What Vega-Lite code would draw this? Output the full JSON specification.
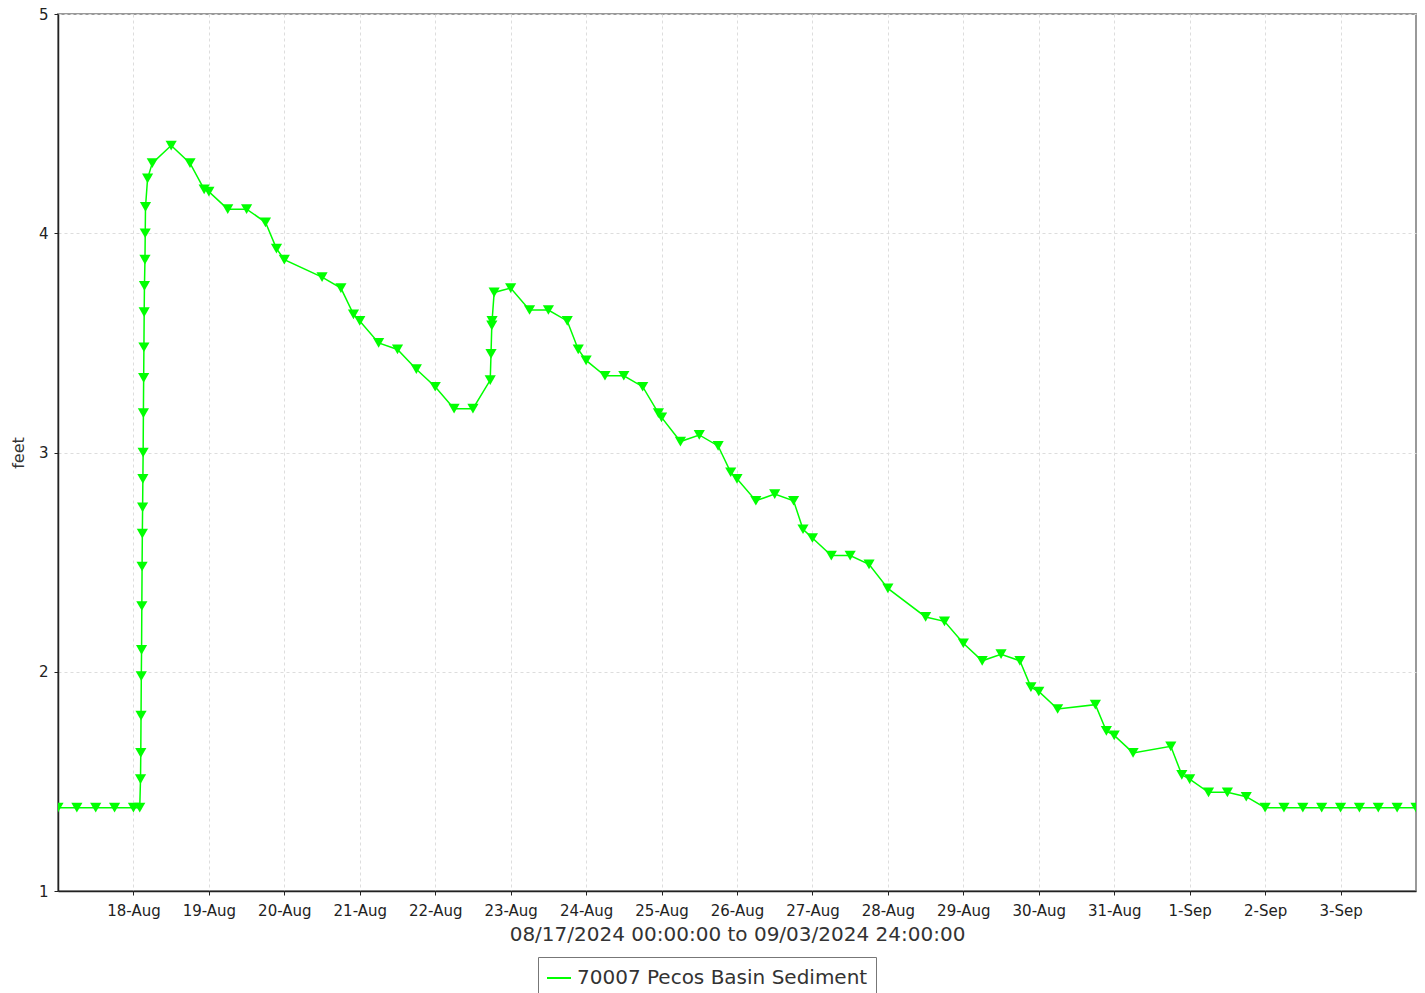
{
  "$schema": "https://vega.github.io/schema/vega-lite/v6.json",
  "autosize": {"type": "none"},
  "width": 1358,
  "height": 877,
  "padding": {"left": 58, "top": 14, "right": 9, "bottom": 102},
  "background": "white",
  "config": {
    "font": "DejaVu Sans",
    "view": {"stroke": "#999", "strokeWidth": 2},
    "axis": {
      "domainColor": "#222",
      "domainWidth": 1.5,
      "tickColor": "#222",
      "tickSize": 4,
      "labelFontSize": 15,
      "labelColor": "#222",
      "titleColor": "#333",
      "titleFontWeight": "normal",
      "gridColor": "#ddd",
      "gridDash": [3, 3],
      "gridWidth": 1
    }
  },
  "data": {
    "values": [
      {"t": "2024-08-17T00:00", "v": 1.38},
      {"t": "2024-08-17T06:00", "v": 1.38},
      {"t": "2024-08-17T12:00", "v": 1.38},
      {"t": "2024-08-17T18:00", "v": 1.38},
      {"t": "2024-08-18T00:00", "v": 1.38},
      {"t": "2024-08-18T02:00", "v": 1.38},
      {"t": "2024-08-18T02:15", "v": 1.51},
      {"t": "2024-08-18T02:20", "v": 1.63},
      {"t": "2024-08-18T02:25", "v": 1.80},
      {"t": "2024-08-18T02:30", "v": 1.98},
      {"t": "2024-08-18T02:35", "v": 2.10},
      {"t": "2024-08-18T02:40", "v": 2.30},
      {"t": "2024-08-18T02:45", "v": 2.48},
      {"t": "2024-08-18T02:50", "v": 2.63},
      {"t": "2024-08-18T02:55", "v": 2.75},
      {"t": "2024-08-18T03:00", "v": 2.88},
      {"t": "2024-08-18T03:05", "v": 3.00},
      {"t": "2024-08-18T03:10", "v": 3.18},
      {"t": "2024-08-18T03:15", "v": 3.34},
      {"t": "2024-08-18T03:20", "v": 3.48},
      {"t": "2024-08-18T03:25", "v": 3.64},
      {"t": "2024-08-18T03:30", "v": 3.76},
      {"t": "2024-08-18T03:40", "v": 3.88},
      {"t": "2024-08-18T03:45", "v": 4.00},
      {"t": "2024-08-18T03:50", "v": 4.12},
      {"t": "2024-08-18T04:30", "v": 4.25},
      {"t": "2024-08-18T06:00", "v": 4.32},
      {"t": "2024-08-18T12:00", "v": 4.40},
      {"t": "2024-08-18T18:00", "v": 4.32},
      {"t": "2024-08-18T22:30", "v": 4.20},
      {"t": "2024-08-19T00:00", "v": 4.19},
      {"t": "2024-08-19T06:00", "v": 4.11},
      {"t": "2024-08-19T12:00", "v": 4.11},
      {"t": "2024-08-19T18:00", "v": 4.05},
      {"t": "2024-08-19T21:30", "v": 3.93},
      {"t": "2024-08-20T00:00", "v": 3.88},
      {"t": "2024-08-20T12:00", "v": 3.80},
      {"t": "2024-08-20T18:00", "v": 3.75},
      {"t": "2024-08-20T22:00", "v": 3.63},
      {"t": "2024-08-21T00:00", "v": 3.60},
      {"t": "2024-08-21T06:00", "v": 3.50},
      {"t": "2024-08-21T12:00", "v": 3.47},
      {"t": "2024-08-21T18:00", "v": 3.38},
      {"t": "2024-08-22T00:00", "v": 3.30},
      {"t": "2024-08-22T06:00", "v": 3.20},
      {"t": "2024-08-22T12:00", "v": 3.20},
      {"t": "2024-08-22T17:30", "v": 3.33},
      {"t": "2024-08-22T17:45", "v": 3.45},
      {"t": "2024-08-22T18:00", "v": 3.58},
      {"t": "2024-08-22T18:05", "v": 3.60},
      {"t": "2024-08-22T18:45", "v": 3.73},
      {"t": "2024-08-23T00:00", "v": 3.75},
      {"t": "2024-08-23T06:00", "v": 3.65},
      {"t": "2024-08-23T12:00", "v": 3.65},
      {"t": "2024-08-23T18:00", "v": 3.60},
      {"t": "2024-08-23T21:30", "v": 3.47},
      {"t": "2024-08-24T00:00", "v": 3.42},
      {"t": "2024-08-24T06:00", "v": 3.35},
      {"t": "2024-08-24T12:00", "v": 3.35},
      {"t": "2024-08-24T18:00", "v": 3.30},
      {"t": "2024-08-24T23:00", "v": 3.18},
      {"t": "2024-08-25T00:00", "v": 3.16},
      {"t": "2024-08-25T06:00", "v": 3.05},
      {"t": "2024-08-25T12:00", "v": 3.08},
      {"t": "2024-08-25T18:00", "v": 3.03},
      {"t": "2024-08-25T22:00", "v": 2.91},
      {"t": "2024-08-26T00:00", "v": 2.88},
      {"t": "2024-08-26T06:00", "v": 2.78},
      {"t": "2024-08-26T12:00", "v": 2.81},
      {"t": "2024-08-26T18:00", "v": 2.78},
      {"t": "2024-08-26T21:00", "v": 2.65},
      {"t": "2024-08-27T00:00", "v": 2.61},
      {"t": "2024-08-27T06:00", "v": 2.53},
      {"t": "2024-08-27T12:00", "v": 2.53},
      {"t": "2024-08-27T18:00", "v": 2.49},
      {"t": "2024-08-28T00:00", "v": 2.38},
      {"t": "2024-08-28T12:00", "v": 2.25},
      {"t": "2024-08-28T18:00", "v": 2.23},
      {"t": "2024-08-29T00:00", "v": 2.13},
      {"t": "2024-08-29T06:00", "v": 2.05},
      {"t": "2024-08-29T12:00", "v": 2.08},
      {"t": "2024-08-29T18:00", "v": 2.05},
      {"t": "2024-08-29T21:30", "v": 1.93},
      {"t": "2024-08-30T00:00", "v": 1.91},
      {"t": "2024-08-30T06:00", "v": 1.83},
      {"t": "2024-08-30T18:00", "v": 1.85},
      {"t": "2024-08-30T21:30", "v": 1.73},
      {"t": "2024-08-31T00:00", "v": 1.71},
      {"t": "2024-08-31T06:00", "v": 1.63},
      {"t": "2024-08-31T18:00", "v": 1.66},
      {"t": "2024-08-31T21:30", "v": 1.53},
      {"t": "2024-09-01T00:00", "v": 1.51},
      {"t": "2024-09-01T06:00", "v": 1.45},
      {"t": "2024-09-01T12:00", "v": 1.45},
      {"t": "2024-09-01T18:00", "v": 1.43},
      {"t": "2024-09-02T00:00", "v": 1.38},
      {"t": "2024-09-02T06:00", "v": 1.38},
      {"t": "2024-09-02T12:00", "v": 1.38},
      {"t": "2024-09-02T18:00", "v": 1.38},
      {"t": "2024-09-03T00:00", "v": 1.38},
      {"t": "2024-09-03T06:00", "v": 1.38},
      {"t": "2024-09-03T12:00", "v": 1.38},
      {"t": "2024-09-03T18:00", "v": 1.38},
      {"t": "2024-09-04T00:00", "v": 1.38}
    ]
  },
  "transform": [{"calculate": "'70007 Pecos Basin Sediment'", "as": "series"}],
  "mark": {
    "type": "line",
    "strokeWidth": 1.5,
    "clip": true,
    "point": {"shape": "triangle-down", "size": 125, "filled": true, "color": "#00ff00", "opacity": 1}
  },
  "encoding": {
    "x": {
      "field": "t",
      "type": "temporal",
      "scale": {
        "domain": [
          {"year": 2024, "month": 8, "date": 17},
          {"year": 2024, "month": 9, "date": 4}
        ]
      },
      "axis": {
        "title": "08/17/2024 00:00:00 to 09/03/2024 24:00:00",
        "titleFontSize": 20,
        "titlePadding": 6,
        "labelPadding": 8,
        "format": "%-d-%b",
        "labelAngle": 0,
        "values": [
          {"year": 2024, "month": 8, "date": 18},
          {"year": 2024, "month": 8, "date": 19},
          {"year": 2024, "month": 8, "date": 20},
          {"year": 2024, "month": 8, "date": 21},
          {"year": 2024, "month": 8, "date": 22},
          {"year": 2024, "month": 8, "date": 23},
          {"year": 2024, "month": 8, "date": 24},
          {"year": 2024, "month": 8, "date": 25},
          {"year": 2024, "month": 8, "date": 26},
          {"year": 2024, "month": 8, "date": 27},
          {"year": 2024, "month": 8, "date": 28},
          {"year": 2024, "month": 8, "date": 29},
          {"year": 2024, "month": 8, "date": 30},
          {"year": 2024, "month": 8, "date": 31},
          {"year": 2024, "month": 9, "date": 1},
          {"year": 2024, "month": 9, "date": 2},
          {"year": 2024, "month": 9, "date": 3}
        ]
      }
    },
    "y": {
      "field": "v",
      "type": "quantitative",
      "scale": {"domain": [1, 5], "nice": false, "zero": false},
      "axis": {
        "title": "feet",
        "titleFontSize": 16,
        "titlePadding": 12,
        "labelPadding": 6,
        "values": [1, 2, 3, 4, 5],
        "format": "d"
      }
    },
    "color": {
      "field": "series",
      "type": "nominal",
      "scale": {"range": ["#00ff00"]},
      "legend": {
        "title": null,
        "orient": "none",
        "legendX": 480,
        "legendY": 943,
        "symbolType": "stroke",
        "symbolSize": 576,
        "symbolStrokeWidth": 2,
        "labelFontSize": 20,
        "labelLimit": 500,
        "labelColor": "#333",
        "labelOffset": 5,
        "padding": 8,
        "strokeColor": "#777",
        "fillColor": "white"
      }
    }
  }
}
